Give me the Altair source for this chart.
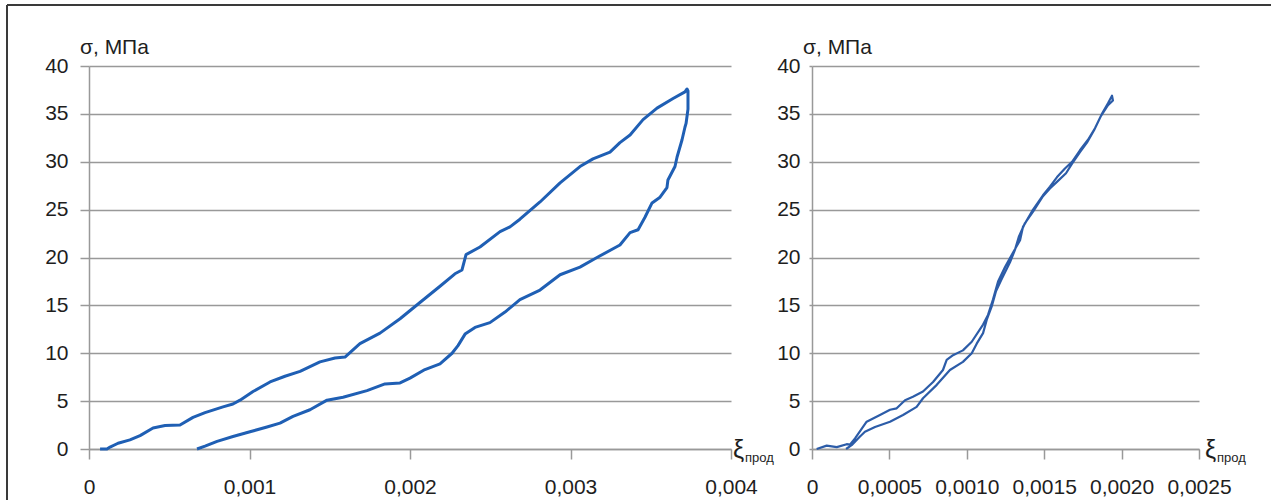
import altair as alt
import pandas as pd

FONT = "Liberation Sans"
TEXT = "#1e1e1e"
GRID = "#999999"
FRAME = "#3a3a3a"

# Left specimen: loading branch (strain, stress MPa)
left_load_eps = [0.000069, 0.000112, 0.000131, 0.000181, 0.000255, 0.000318, 0.000399,
                 0.000474, 0.000567, 0.000648, 0.000723, 0.000835, 0.000897, 0.000941,
                 0.001022, 0.001128, 0.001221, 0.001315, 0.001439, 0.001533, 0.001595,
                 0.001688, 0.001813, 0.001938, 0.002062, 0.002187, 0.002280, 0.002324,
                 0.002349, 0.002436, 0.002561, 0.002623, 0.002685, 0.002810, 0.002935,
                 0.003059, 0.003140, 0.003246, 0.003308, 0.003371, 0.003452, 0.003539,
                 0.003639, 0.003713, 0.003726]
left_load_sig = [0.0, 0.0, 0.2, 0.6, 0.95, 1.4, 2.2,
                 2.45, 2.5, 3.3, 3.8, 4.4, 4.7, 5.1,
                 6.0, 7.0, 7.6, 8.1, 9.1, 9.5, 9.6,
                 11.0, 12.1, 13.6, 15.3, 17.0, 18.3, 18.7,
                 20.3, 21.1, 22.7, 23.2, 24.0, 25.8, 27.8,
                 29.5, 30.3, 31.0, 32.0, 32.8, 34.4, 35.6,
                 36.6, 37.3, 37.6]

# Left specimen: unloading branch
left_unload_eps = [0.003732, 0.003732, 0.003720, 0.003713, 0.003695, 0.003664, 0.003651,
                   0.003607, 0.003601, 0.003558, 0.003508, 0.003464, 0.003421, 0.003371,
                   0.003308, 0.003165, 0.003059, 0.002935, 0.002810, 0.002685, 0.002592,
                   0.002498, 0.002405, 0.002343, 0.002299, 0.002262, 0.002187, 0.002093,
                   0.002000, 0.001938, 0.001844, 0.001732, 0.001583, 0.001483, 0.001377,
                   0.001271, 0.001190, 0.001109, 0.001003, 0.000897, 0.000798, 0.000723,
                   0.000673]
left_unload_sig = [37.4, 35.5, 34.0, 33.6, 32.3, 30.5, 29.5,
                   28.1, 27.3, 26.3, 25.7, 24.2, 22.9, 22.6,
                   21.3, 20.0, 19.0, 18.2, 16.6, 15.6, 14.3,
                   13.2, 12.7, 12.0, 10.8, 10.0, 8.9, 8.3,
                   7.4, 6.9, 6.8, 6.1, 5.4, 5.1, 4.1,
                   3.4, 2.7, 2.3, 1.8, 1.3, 0.8, 0.3,
                   0.0]

# Right specimen: loading branch
right_load_eps = [0.000030, 0.000095, 0.000160, 0.000224, 0.000245, 0.000278, 0.000353,
                  0.000439, 0.000504, 0.000547, 0.000601, 0.000652, 0.000717, 0.000782,
                  0.000846, 0.000870, 0.000911, 0.000975, 0.001032, 0.001105, 0.001137,
                  0.001169, 0.001202, 0.001247, 0.001298, 0.001344, 0.001363, 0.001428,
                  0.001492, 0.001537, 0.001583, 0.001634, 0.001680, 0.001731, 0.001783,
                  0.001828, 0.001873, 0.001912, 0.001938]
right_load_sig = [0.0, 0.35, 0.2, 0.5, 0.45, 1.1, 2.85,
                  3.55, 4.1, 4.25, 5.1, 5.45, 6.0, 7.0,
                  8.25, 9.3, 9.8, 10.3, 11.2, 13.0, 14.0,
                  15.6, 17.5, 19.0, 20.5, 21.8, 23.2, 25.0,
                  26.5, 27.4, 28.4, 29.3, 30.0, 31.2, 32.3,
                  33.5, 35.0, 36.1, 36.9]

# Right specimen: unloading branch
right_unload_eps = [0.001944, 0.001912, 0.001867, 0.001822, 0.001776, 0.001731, 0.001680,
                    0.001641, 0.001589, 0.001537, 0.001492, 0.001428, 0.001376, 0.001337,
                    0.001311, 0.001279, 0.001227, 0.001189, 0.001161, 0.001129, 0.001105,
                    0.001064, 0.001032, 0.000975, 0.000891, 0.000806, 0.000717, 0.000676,
                    0.000588, 0.000504, 0.000407, 0.000342, 0.000310, 0.000256, 0.000220]
right_unload_sig = [36.4, 35.9, 34.8, 33.3, 32.0, 31.0, 29.8,
                    28.8, 28.0, 27.2, 26.4, 24.8, 23.6, 22.2,
                    20.8, 19.5, 17.8, 16.5, 14.9, 13.5, 12.1,
                    11.0, 10.0, 9.1, 8.25, 6.7, 5.3, 4.4,
                    3.55, 2.85, 2.3, 1.8, 1.3, 0.4, 0.0]

y_ticks = [0, 5, 10, 15, 20, 25, 30, 35, 40]
left_x_ticks = [0, 0.001, 0.002, 0.003, 0.004]
right_x_ticks = [0, 0.0005, 0.0010, 0.0015, 0.0020, 0.0025]

stress_title = "σ, МПа"
strain_symbol = "ξ"
strain_sub = "прод"

LABEL_SIZE = 21


def path_frame(load_eps, load_sig, unload_eps, unload_sig):
    eps = list(load_eps) + list(unload_eps)
    sig = list(load_sig) + list(unload_sig)
    return pd.DataFrame({"eps": eps, "sig": sig, "step": list(range(len(eps)))})


def text_layer(txt, x, y, size, align="left"):
    return alt.Chart(pd.DataFrame({"t": [txt]})).mark_text(
        font=FONT, fontSize=size, color=TEXT, align=align, baseline="alphabetic"
    ).encode(text="t:N", x=alt.value(x), y=alt.value(y))


def panel(df, x_max, x_ticks, decimals, width, color, line_w, y_tick, y_pad,
          xi_dx, sub_dx, extra=None):
    label_expr = ("datum.value == 0 ? '0' : replace(format(datum.value, '.%df'), '.', ',')"
                  % decimals)
    x_enc = alt.X(
        "eps:Q",
        scale=alt.Scale(domain=[0, x_max], nice=False, zero=True),
        axis=alt.Axis(values=x_ticks, labelExpr=label_expr, grid=False, domain=True,
                      domainColor=GRID, domainWidth=1.5, ticks=True, tickColor=GRID,
                      tickWidth=1.5, tickSize=10, labelFont=FONT, labelFontSize=LABEL_SIZE,
                      labelColor=TEXT, labelPadding=17, labelFlush=False,
                      labelOverlap=False, title=None),
    )
    y_enc = alt.Y(
        "sig:Q",
        scale=alt.Scale(domain=[0, 40], nice=False),
        axis=alt.Axis(values=y_ticks, grid=True, gridColor=GRID, gridWidth=1.5,
                      domain=True, domainColor=GRID, domainWidth=1.5, ticks=True,
                      tickColor=GRID, tickWidth=1.5, tickSize=y_tick, labelFont=FONT,
                      labelFontSize=LABEL_SIZE, labelColor=TEXT, labelPadding=y_pad,
                      labelFlush=False, title=None),
    )
    line = alt.Chart(df).mark_line(color=color, strokeWidth=line_w, strokeJoin="round",
                                   clip=False).encode(x=x_enc, y=y_enc, order="step:Q")
    layers = [
        line,
        text_layer(stress_title, -9, -12, LABEL_SIZE),
        text_layer(strain_symbol, width + xi_dx, 392, 25),
        text_layer(strain_sub, width + sub_dx, 396, 13),
    ]
    if extra:
        layers += extra
    return alt.layer(*layers).properties(width=width, height=383)


# outer frame lines (top edge and left edge)
frame_top = alt.Chart(pd.DataFrame({"a": [0]})).mark_rule(color=FRAME, strokeWidth=2).encode(
    x=alt.value(-82), x2=alt.value(1182), y=alt.value(-61))
frame_left = alt.Chart(pd.DataFrame({"a": [0]})).mark_rule(color=FRAME, strokeWidth=2).encode(
    x=alt.value(-82), y=alt.value(-61), y2=alt.value(434))

left = panel(path_frame(left_load_eps, left_load_sig, left_unload_eps, left_unload_sig),
             0.004, left_x_ticks, 3, 642, "#1f5fb4", 3, 9, 12, 2, 14,
             extra=[frame_top, frame_left])
right = panel(path_frame(right_load_eps, right_load_sig, right_unload_eps, right_unload_sig),
              0.0025, right_x_ticks, 4, 387, "#2c5ca8", 2.2, 3, 9, 6, 18)

chart = alt.hconcat(left, right, spacing=81, bounds="flush").properties(
    padding={"left": 6, "top": 4, "right": 0, "bottom": 0},
    autosize=alt.AutoSizeParams(type="pad"),
    background="white",
).configure_view(stroke=None)

chart.save("out.html", embed_options={"renderer": "svg", "actions": False})
